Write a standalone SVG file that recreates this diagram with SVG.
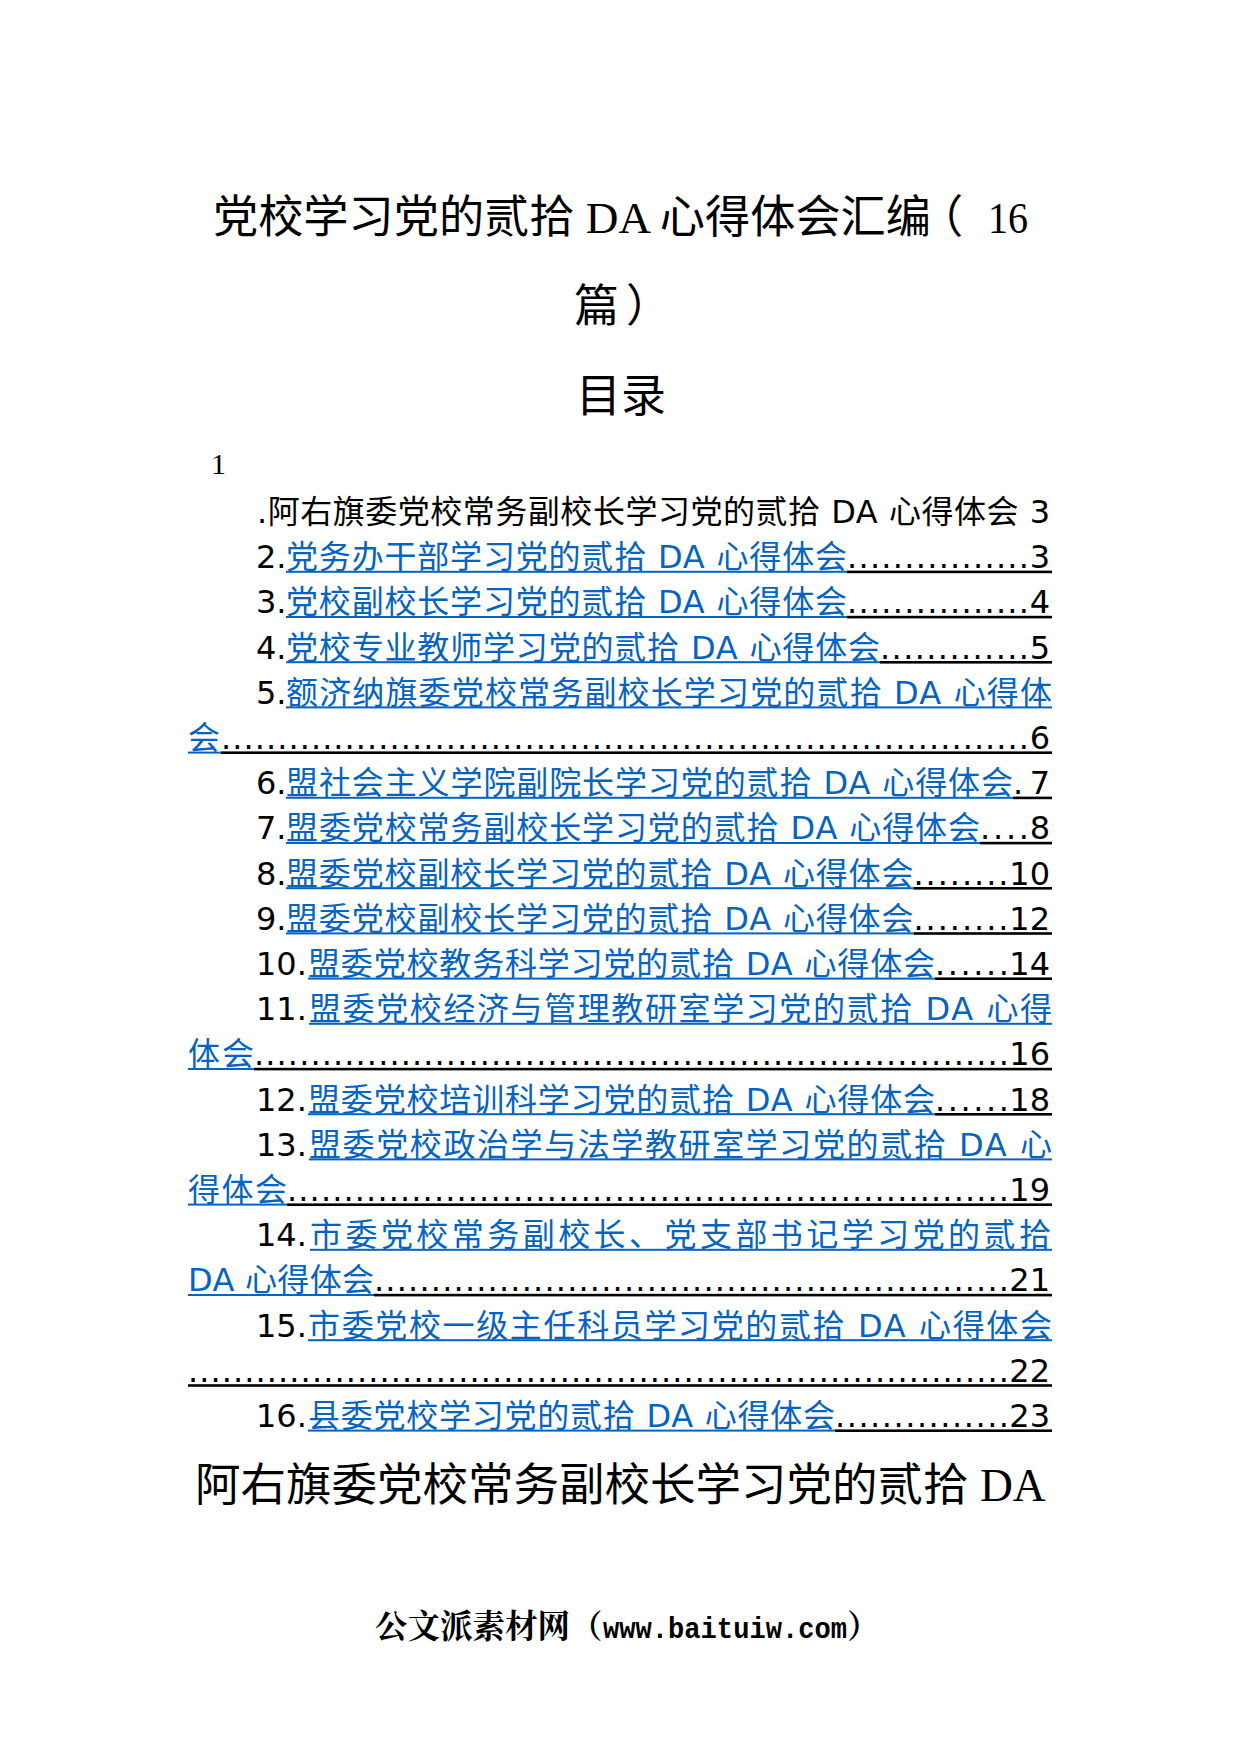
<svg xmlns="http://www.w3.org/2000/svg" width="1240" height="1754" viewBox="0 0 1240 1754">
<style>
.ttl{font-family:"Liberation Serif","Noto Sans CJK SC",serif;font-size:45px;fill:#000}
.toc{font-family:"DejaVu Sans","Noto Sans CJK SC",sans-serif;font-size:32px}
.k{fill:#000}
.b{fill:#0563C1}
.ub{fill:#0563C1}
.uk{fill:#000}
.ft{font-family:"Liberation Mono","Noto Serif CJK SC","Noto Sans CJK SC",monospace;font-weight:bold;fill:#000}
</style>
<rect width="1240" height="1754" fill="#fff"/>
<g id="title">
<text class="ttl" x="213" y="233" style="font-size:45.2px">党校学习党的贰拾 DA 心得体会汇编<tspan dx="-13">（</tspan></text>
<text class="ttl" x="988" y="233" style="font-size:44px" textLength="40" lengthAdjust="spacingAndGlyphs">16</text>
<text class="ttl" x="574" y="322">篇<tspan dx="7">）</tspan></text>
</g>
<g id="mulu"><text class="ttl" x="621" y="412" text-anchor="middle">目录</text></g>
<g id="toc">
<g id="toc-0">
<text x="211" y="474" style="font-family:'Liberation Serif',serif;font-size:30px">1</text>
<text class="toc k" x="257" y="523" textLength="793" lengthAdjust="spacing">.阿右旗委党校常务副校长学习党的贰拾 DA 心得体会 3</text>
</g>
<g id="toc-2">
<text class="toc k" x="256" y="568.2">2.</text>
<text class="toc b" x="286" y="568.2" textLength="561" lengthAdjust="spacing">党务办干部学习党的贰拾 DA 心得体会</text>
<text class="toc k" x="847" y="568.2" textLength="182" lengthAdjust="spacing">................</text>
<text class="toc k" x="1050" y="568.2" text-anchor="end">3</text>
<rect class="ub" x="286" y="570.8" width="561" height="2"/><rect class="uk" x="847" y="570.6" width="205" height="2.6"/>
</g>
<g id="toc-3">
<text class="toc k" x="256" y="613.4">3.</text>
<text class="toc b" x="286" y="613.4" textLength="561" lengthAdjust="spacing">党校副校长学习党的贰拾 DA 心得体会</text>
<text class="toc k" x="847" y="613.4" textLength="182" lengthAdjust="spacing">................</text>
<text class="toc k" x="1050" y="613.4" text-anchor="end">4</text>
<rect class="ub" x="286" y="616" width="561" height="2"/><rect class="uk" x="847" y="615.8" width="205" height="2.6"/>
</g>
<g id="toc-4">
<text class="toc k" x="256" y="658.6">4.</text>
<text class="toc b" x="286" y="658.6" textLength="594" lengthAdjust="spacing">党校专业教师学习党的贰拾 DA 心得体会</text>
<text class="toc k" x="880" y="658.6" textLength="149" lengthAdjust="spacing">.............</text>
<text class="toc k" x="1050" y="658.6" text-anchor="end">5</text>
<rect class="ub" x="286" y="661.2" width="594" height="2"/><rect class="uk" x="880" y="661" width="172" height="2.6"/>
</g>
<g id="toc-5">
<text class="toc k" x="256" y="703.8">5.</text>
<text class="toc b" x="286" y="703.8" textLength="766" lengthAdjust="spacing">额济纳旗委党校常务副校长学习党的贰拾 DA 心得体</text>
<rect class="ub" x="286" y="706.4" width="766" height="2"/>
<text class="toc b" x="188" y="749">会</text>
<text class="toc k" x="221" y="749" textLength="808" lengthAdjust="spacing">........................................................................</text>
<text class="toc k" x="1050" y="749" text-anchor="end">6</text>
<rect class="ub" x="188" y="751.6" width="33" height="2"/><rect class="uk" x="221" y="751.4" width="831" height="2.6"/>
</g>
<g id="toc-6">
<text class="toc k" x="256" y="794.2">6.</text>
<text class="toc b" x="286" y="794.2" textLength="727" lengthAdjust="spacing">盟社会主义学院副院长学习党的贰拾 DA 心得体会</text>
<text class="toc k" x="1013" y="794.2">.</text>
<text class="toc k" x="1050" y="794.2" text-anchor="end">7</text>
<rect class="ub" x="286" y="796.8" width="727" height="2"/><rect class="uk" x="1013" y="796.6" width="39" height="2.6"/>
</g>
<g id="toc-7">
<text class="toc k" x="256" y="839.4">7.</text>
<text class="toc b" x="286" y="839.4" textLength="694" lengthAdjust="spacing">盟委党校常务副校长学习党的贰拾 DA 心得体会</text>
<text class="toc k" x="980" y="839.4" textLength="49" lengthAdjust="spacing">....</text>
<text class="toc k" x="1050" y="839.4" text-anchor="end">8</text>
<rect class="ub" x="286" y="842" width="694" height="2"/><rect class="uk" x="980" y="841.8" width="72" height="2.6"/>
</g>
<g id="toc-8">
<text class="toc k" x="256" y="884.6">8.</text>
<text class="toc b" x="286" y="884.6" textLength="627.5" lengthAdjust="spacing">盟委党校副校长学习党的贰拾 DA 心得体会</text>
<text class="toc k" x="913.5" y="884.6" textLength="95" lengthAdjust="spacing">........</text>
<text class="toc k" x="1050" y="884.6" text-anchor="end">10</text>
<rect class="ub" x="286" y="887.2" width="627.5" height="2"/><rect class="uk" x="913.5" y="887" width="138.5" height="2.6"/>
</g>
<g id="toc-9">
<text class="toc k" x="256" y="929.8">9.</text>
<text class="toc b" x="286" y="929.8" textLength="627.5" lengthAdjust="spacing">盟委党校副校长学习党的贰拾 DA 心得体会</text>
<text class="toc k" x="913.5" y="929.8" textLength="95" lengthAdjust="spacing">........</text>
<text class="toc k" x="1050" y="929.8" text-anchor="end">12</text>
<rect class="ub" x="286" y="932.4" width="627.5" height="2"/><rect class="uk" x="913.5" y="932.2" width="138.5" height="2.6"/>
</g>
<g id="toc-10">
<text class="toc k" x="256" y="975">10.</text>
<text class="toc b" x="308" y="975" textLength="627" lengthAdjust="spacing">盟委党校教务科学习党的贰拾 DA 心得体会</text>
<text class="toc k" x="935" y="975" textLength="74" lengthAdjust="spacing">......</text>
<text class="toc k" x="1050" y="975" text-anchor="end">14</text>
<rect class="ub" x="308" y="977.6" width="627" height="2"/><rect class="uk" x="935" y="977.4" width="117" height="2.6"/>
</g>
<g id="toc-11">
<text class="toc k" x="256" y="1020.2">11.</text>
<text class="toc b" x="309" y="1020.2" textLength="743" lengthAdjust="spacing">盟委党校经济与管理教研室学习党的贰拾 DA 心得</text>
<rect class="ub" x="309" y="1022.8" width="743" height="2"/>
<text class="toc b" x="188" y="1065.4" textLength="66" lengthAdjust="spacing">体会</text>
<text class="toc k" x="254" y="1065.4" textLength="755" lengthAdjust="spacing">...................................................................</text>
<text class="toc k" x="1050" y="1065.4" text-anchor="end">16</text>
<rect class="ub" x="188" y="1068" width="66" height="2"/><rect class="uk" x="254" y="1067.8" width="798" height="2.6"/>
</g>
<g id="toc-12">
<text class="toc k" x="256" y="1110.6">12.</text>
<text class="toc b" x="308" y="1110.6" textLength="627" lengthAdjust="spacing">盟委党校培训科学习党的贰拾 DA 心得体会</text>
<text class="toc k" x="935" y="1110.6" textLength="74" lengthAdjust="spacing">......</text>
<text class="toc k" x="1050" y="1110.6" text-anchor="end">18</text>
<rect class="ub" x="308" y="1113.2" width="627" height="2"/><rect class="uk" x="935" y="1113" width="117" height="2.6"/>
</g>
<g id="toc-13">
<text class="toc k" x="256" y="1155.8">13.</text>
<text class="toc b" x="309" y="1155.8" textLength="743" lengthAdjust="spacing">盟委党校政治学与法学教研室学习党的贰拾 DA 心</text>
<rect class="ub" x="309" y="1158.4" width="743" height="2"/>
<text class="toc b" x="188" y="1201" textLength="99" lengthAdjust="spacing">得体会</text>
<text class="toc k" x="287" y="1201" textLength="722" lengthAdjust="spacing">................................................................</text>
<text class="toc k" x="1050" y="1201" text-anchor="end">19</text>
<rect class="ub" x="188" y="1203.6" width="99" height="2"/><rect class="uk" x="287" y="1203.4" width="765" height="2.6"/>
</g>
<g id="toc-14">
<text class="toc k" x="256" y="1246.2">14.</text>
<text class="toc b" x="310" y="1246.2" textLength="741" lengthAdjust="spacing">市委党校常务副校长、党支部书记学习党的贰拾</text>
<rect class="ub" x="310" y="1248.8" width="742" height="2"/>
<text class="toc b" x="188" y="1291.4" textLength="186" lengthAdjust="spacing">DA 心得体会</text>
<text class="toc k" x="374" y="1291.4" textLength="635" lengthAdjust="spacing">........................................................</text>
<text class="toc k" x="1050" y="1291.4" text-anchor="end">21</text>
<rect class="ub" x="188" y="1294" width="186" height="2"/><rect class="uk" x="374" y="1293.8" width="678" height="2.6"/>
</g>
<g id="toc-15">
<text class="toc k" x="256" y="1336.6">15.</text>
<text class="toc b" x="308" y="1336.6" textLength="744" lengthAdjust="spacing">市委党校一级主任科员学习党的贰拾 DA 心得体会</text>
<rect class="ub" x="308" y="1339.2" width="744" height="2"/>
<text class="toc k" x="188" y="1381.8" textLength="821" lengthAdjust="spacing">.........................................................................</text>
<text class="toc k" x="1050" y="1381.8" text-anchor="end">22</text>
<rect class="uk" x="188" y="1384.2" width="864" height="2.6"/>
</g>
<g id="toc-16">
<text class="toc k" x="256" y="1427">16.</text>
<text class="toc b" x="308" y="1427" textLength="527" lengthAdjust="spacing">县委党校学习党的贰拾 DA 心得体会</text>
<text class="toc k" x="835" y="1427" textLength="174" lengthAdjust="spacing">...............</text>
<text class="toc k" x="1050" y="1427" text-anchor="end">23</text>
<rect class="ub" x="308" y="1429.6" width="527" height="2"/><rect class="uk" x="835" y="1429.4" width="217" height="2.6"/>
</g>
</g>
<g id="heading">
<text class="ttl" x="195" y="1501" style="font-size:45.5px">阿右旗委党校常务副校长学习党的贰拾 DA</text>
</g>
<g id="footer">
<text class="ft" x="375" y="1638" style="font-size:32.5px">公文派素材网（</text>
<text class="ft" x="603" y="1638" style="font-size:30px" textLength="244" lengthAdjust="spacingAndGlyphs">www.baituiw.com</text>
<text class="ft" x="847" y="1638" style="font-size:32.5px">）</text>
</g>
</svg>
